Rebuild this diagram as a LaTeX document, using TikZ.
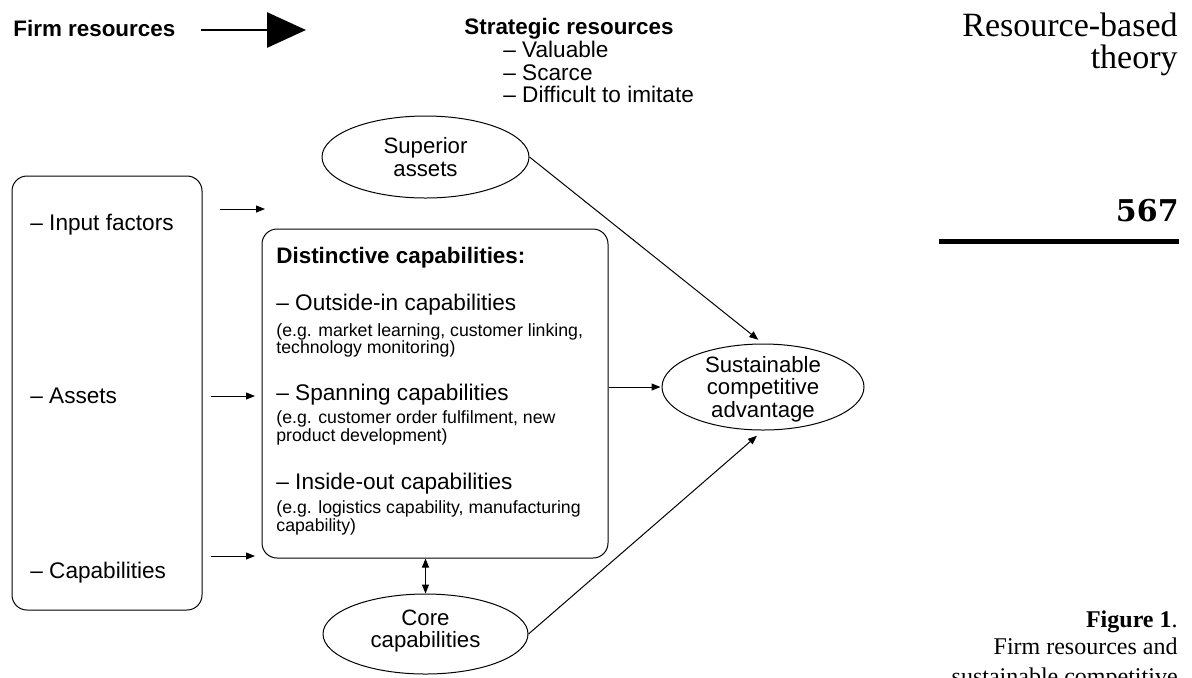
\documentclass[tikz,border=0pt]{standalone}
\usepackage{fontspec}
\setmainfont{Liberation Serif}
\setsansfont{Liberation Sans}
\newfontfamily\numfont{DejaVu Serif}
\usetikzlibrary{arrows.meta,shapes.geometric}

\begin{document}
\begin{tikzpicture}[x=0.5pt,y=-0.5pt,
  txt/.style={inner sep=0pt, anchor=base west, font=\sffamily\fontsize{11.3}{13}\selectfont},
  head/.style={inner sep=0pt, anchor=base west, font=\sffamily\bfseries\fontsize{11.2}{13}\selectfont},
  note/.style={inner sep=0pt, anchor=base west, font=\sffamily\fontsize{8.85}{9}\selectfont},
  rbox/.style={draw, rounded corners=7.5pt, line width=0.5pt, inner sep=0pt},
  oval/.style={draw, ellipse, line width=0.5pt, inner sep=0pt},
  ovaltext/.style={inner sep=0pt, align=center, font=\sffamily\fontsize{11.1}{11.3}\selectfont},
  arr/.style={line width=0.5pt, -{Triangle[length=4.5pt,width=3.5pt]}},
  dblarr/.style={line width=0.5pt, {Triangle[length=4.5pt,width=3.5pt]}-{Triangle[length=4.5pt,width=3.5pt]}},
  side/.style={inner sep=0pt, anchor=base east, font=\fontsize{17}{20}\selectfont},
  capt/.style={inner sep=0pt, anchor=base east, font=\fontsize{12}{14}\selectfont}
]
\useasboundingbox (0,0) rectangle (1192,677);
\clip (0,0) rectangle (1192,677);

% heading row
\node[head] (fr) at (13,36) {Firm resources};
\coordinate (bigtip) at (306,30);
\draw[line width=1.4pt, -{Triangle[length=19.5pt,width=17.5pt]}, shorten <=12.5pt] (fr.east |- bigtip) -- (bigtip);

\node[head] (sr) at (464,34) {Strategic resources};
\node[txt] (v1) at (503,57) {– Valuable};
\node[txt] (v2) at (503,80) {– Scarce};
\node[txt] (v3) at (503,102) {– Difficult to imitate};

% firm resources box
\node[rbox, minimum width=95pt, minimum height=217pt] (res) at (107,393) {};
\node[txt] (t1) at (30,230) {– Input factors};
\node[txt] (t2) at (30,403) {– Assets};
\node[txt] (t3) at (30,578) {– Capabilities};

% distinctive capabilities box
\node[rbox, minimum width=173pt, minimum height=164.5pt] (dist) at (435,393.5) {};
\node[head] (dh) at (276,263) {Distinctive capabilities:};
\node[txt] (o1) at (276,310) {– Outside-in capabilities};
\node[note] (o1a) at (276,336) {(e.g. market learning, customer linking,};
\node[note] (o1b) at (276,353) {technology monitoring)};
\node[txt] (s1) at (276,400) {– Spanning capabilities};
\node[note] (s1a) at (276,423) {(e.g. customer order fulfilment, new};
\node[note] (s1b) at (276,441) {product development)};
\node[txt] (i1) at (276,489) {– Inside-out capabilities};
\node[note] (i1a) at (276,513) {(e.g. logistics capability, manufacturing};
\node[note] (i1b) at (276,531) {capability)};

% ellipses
\node[oval, minimum width=103.5pt, minimum height=41pt] (sup) at (425.5,157) {};
\node[ovaltext] (supT) at (425.5,157) {Superior\\assets};
\node[oval, minimum width=102.5pt, minimum height=40pt] (core) at (425.5,634) {};
\node[ovaltext] (coreT) at (425.5,631) {Core\\capabilities};
\node[oval, minimum width=101pt, minimum height=43pt] (sust) at (763,387) {};
\node[ovaltext] (sustT) at (763,389) {Sustainable\\competitive\\advantage};

% connectors
\coordinate (a1e) at (265,209);
\coordinate (a2e) at (255,396);
\coordinate (a3e) at (255,556);
\draw[arr, shorten <=8.5pt] (res.east |- a1e) -- (a1e);
\draw[arr, shorten <=4pt] (res.east |- a2e) -- (a2e);
\draw[arr, shorten <=4pt] (res.east |- a3e) -- (a3e);
\draw[arr, shorten >=0.5pt] (dist.east |- sust.west) -- (sust.west);
\draw[arr, shorten >=3pt] (sup.east) -- (sust.north);
\draw[arr, shorten >=4pt] (core.east) -- (sust.south);
\draw[dblarr] (dist.south -| core.north) -- (core.north);

% margin texts
\node[side] (rb1) at (1178,36) {Resource-based};
\node[side] (rb2) at (1178,68) {theory};
\node[inner sep=0pt, anchor=base east, font=\numfont\bfseries\fontsize{15}{18}\selectfont] (pg) at (1179,221) {567};
\coordinate (ruleL) at (939,241);
\coordinate (ruleR) at (1179,241);
\draw[line width=2.5pt] (ruleL) -- (ruleR);
\node[capt] (fig) at (1178,627) {\textbf{Figure 1}.};
\node[capt] (c1) at (1178,654) {Firm resources and};
\node[capt] (c2) at (1178,684) {sustainable competitive};
\end{tikzpicture}
\end{document}
